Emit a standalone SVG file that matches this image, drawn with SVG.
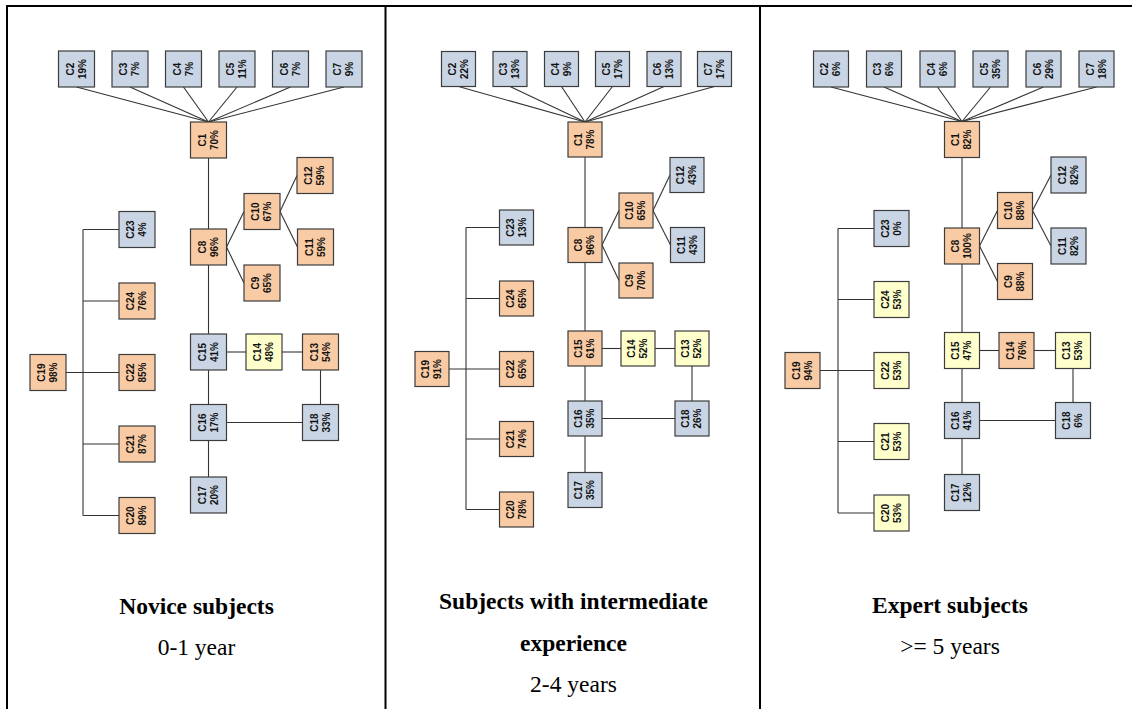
<svg xmlns="http://www.w3.org/2000/svg" width="1132" height="709" viewBox="0 0 1132 709">
<style>
.o{fill:#F9CBA4;stroke:#3c3c3c;stroke-width:1.2}
.b{fill:#C9D5E4;stroke:#3c3c3c;stroke-width:1.2}
.y{fill:#FFFFCC;stroke:#3c3c3c;stroke-width:1.2}
.t{font-family:"Liberation Sans",Arial,sans-serif;font-weight:bold;font-size:10px;fill:#111;text-anchor:middle}
.conn line{stroke:#333;stroke-width:1.1}
.frame line{stroke:#000;stroke-width:2}
.h{font-family:"Liberation Serif","Times New Roman",serif;font-weight:bold;font-size:23.5px;fill:#000;text-anchor:middle}
.s{font-family:"Liberation Serif","Times New Roman",serif;font-size:23.5px;fill:#000;text-anchor:middle}
</style>
<rect x="0" y="0" width="1132" height="709" fill="#fff"/>
<g class="frame">
<line x1="6" y1="6" x2="1132" y2="6"/>
<line x1="7" y1="5" x2="7" y2="709"/>
<line x1="385.5" y1="5" x2="385.5" y2="709"/>
<line x1="760" y1="5" x2="760" y2="709"/>
</g>

<!-- Panel 1 connectors -->
<g id="p1-connectors" class="conn">
<line x1="76.5" y1="87" x2="208.5" y2="122"/>
<line x1="130" y1="87" x2="208.5" y2="122"/>
<line x1="183.5" y1="87" x2="208.5" y2="122"/>
<line x1="237" y1="87" x2="208.5" y2="122"/>
<line x1="290.5" y1="87" x2="208.5" y2="122"/>
<line x1="344" y1="87" x2="208.5" y2="122"/>
<line x1="208.5" y1="158" x2="208.5" y2="229"/>
<line x1="226.5" y1="247" x2="244" y2="211.5"/>
<line x1="226.5" y1="247" x2="244" y2="283"/>
<line x1="280" y1="211.5" x2="297" y2="175.5"/>
<line x1="280" y1="211.5" x2="297.5" y2="247"/>
<line x1="208.5" y1="265" x2="208.5" y2="334"/>
<line x1="226.5" y1="352" x2="246" y2="352"/>
<line x1="282" y1="352" x2="302.5" y2="352"/>
<line x1="320.5" y1="370" x2="320.5" y2="404.5"/>
<line x1="208.5" y1="370" x2="208.5" y2="404.5"/>
<line x1="226.5" y1="422.5" x2="302.5" y2="422.5"/>
<line x1="208.5" y1="440.5" x2="208.5" y2="477"/>
<line x1="66" y1="372.5" x2="119" y2="372.5"/>
<line x1="83" y1="229.5" x2="83" y2="515.5"/>
<line x1="83" y1="229.5" x2="119" y2="229.5"/>
<line x1="83" y1="301" x2="119" y2="301"/>
<line x1="83" y1="444" x2="119" y2="444"/>
<line x1="83" y1="515.5" x2="119" y2="515.5"/>
</g>

<!-- Panel 2 connectors -->
<g id="p2-connectors" class="conn">
<line x1="458.5" y1="86.5" x2="585" y2="122"/>
<line x1="510" y1="86.5" x2="585" y2="122"/>
<line x1="561.5" y1="86.5" x2="585" y2="122"/>
<line x1="612.5" y1="86.5" x2="585" y2="122"/>
<line x1="664" y1="86.5" x2="585" y2="122"/>
<line x1="714.5" y1="86.5" x2="585" y2="122"/>
<line x1="585" y1="157" x2="585" y2="227.5"/>
<line x1="602" y1="245" x2="619" y2="210.5"/>
<line x1="602" y1="245" x2="619" y2="280.5"/>
<line x1="653" y1="210.5" x2="670" y2="175"/>
<line x1="653" y1="210.5" x2="670.5" y2="245"/>
<line x1="585" y1="262.5" x2="585" y2="331"/>
<line x1="602" y1="348.5" x2="621" y2="348.5"/>
<line x1="655" y1="348.5" x2="675" y2="348.5"/>
<line x1="692" y1="366" x2="692" y2="401"/>
<line x1="585" y1="366" x2="585" y2="401"/>
<line x1="602" y1="418.5" x2="675" y2="418.5"/>
<line x1="585" y1="436" x2="585" y2="472.5"/>
<line x1="449" y1="369" x2="499.5" y2="369"/>
<line x1="466" y1="227.5" x2="466" y2="509.5"/>
<line x1="466" y1="227.5" x2="499.5" y2="227.5"/>
<line x1="466" y1="298.5" x2="499.5" y2="298.5"/>
<line x1="466" y1="439" x2="499.5" y2="439"/>
<line x1="466" y1="509.5" x2="499.5" y2="509.5"/>
</g>

<!-- Panel 3 connectors -->
<g id="p3-connectors" class="conn">
<line x1="831" y1="87" x2="962" y2="121.5"/>
<line x1="884" y1="87" x2="962" y2="121.5"/>
<line x1="937.5" y1="87" x2="962" y2="121.5"/>
<line x1="990.5" y1="87" x2="962" y2="121.5"/>
<line x1="1043.5" y1="87" x2="962" y2="121.5"/>
<line x1="1096.5" y1="87" x2="962" y2="121.5"/>
<line x1="962" y1="157.5" x2="962" y2="228"/>
<line x1="979.5" y1="246" x2="997.5" y2="210.5"/>
<line x1="979.5" y1="246" x2="997.5" y2="281.5"/>
<line x1="1032.5" y1="210.5" x2="1051" y2="175"/>
<line x1="1032.5" y1="210.5" x2="1051" y2="246"/>
<line x1="962" y1="264" x2="962" y2="332.5"/>
<line x1="979.5" y1="350.5" x2="999" y2="350.5"/>
<line x1="1034" y1="350.5" x2="1055.5" y2="350.5"/>
<line x1="1073" y1="368.5" x2="1073" y2="402.5"/>
<line x1="962" y1="368.5" x2="962" y2="402.5"/>
<line x1="979.5" y1="420.5" x2="1055.5" y2="420.5"/>
<line x1="962" y1="438.5" x2="962" y2="474.5"/>
<line x1="820" y1="370.5" x2="874" y2="370.5"/>
<line x1="838" y1="228.5" x2="838" y2="513"/>
<line x1="838" y1="228.5" x2="874" y2="228.5"/>
<line x1="838" y1="299.5" x2="874" y2="299.5"/>
<line x1="838" y1="441.5" x2="874" y2="441.5"/>
<line x1="838" y1="513" x2="874" y2="513"/>
</g>

<!-- Panel 1 nodes -->
<g id="p1-nodes">
<g id="p1-C2" transform="translate(76.5,69)"><rect class="b" x="-18" y="-18" width="36" height="36"/><text class="t" transform="rotate(-90)"><tspan x="0" y="-3">C2</tspan><tspan x="0" y="9">19%</tspan></text></g>
<g id="p1-C3" transform="translate(130,69)"><rect class="b" x="-18" y="-18" width="36" height="36"/><text class="t" transform="rotate(-90)"><tspan x="0" y="-3">C3</tspan><tspan x="0" y="9">7%</tspan></text></g>
<g id="p1-C4" transform="translate(183.5,69)"><rect class="b" x="-18" y="-18" width="36" height="36"/><text class="t" transform="rotate(-90)"><tspan x="0" y="-3">C4</tspan><tspan x="0" y="9">7%</tspan></text></g>
<g id="p1-C5" transform="translate(237,69)"><rect class="b" x="-18" y="-18" width="36" height="36"/><text class="t" transform="rotate(-90)"><tspan x="0" y="-3">C5</tspan><tspan x="0" y="9">11%</tspan></text></g>
<g id="p1-C6" transform="translate(290.5,69)"><rect class="b" x="-18" y="-18" width="36" height="36"/><text class="t" transform="rotate(-90)"><tspan x="0" y="-3">C6</tspan><tspan x="0" y="9">7%</tspan></text></g>
<g id="p1-C7" transform="translate(344,69)"><rect class="b" x="-18" y="-18" width="36" height="36"/><text class="t" transform="rotate(-90)"><tspan x="0" y="-3">C7</tspan><tspan x="0" y="9">9%</tspan></text></g>
<g id="p1-C1" transform="translate(208.5,140)"><rect class="o" x="-18" y="-18" width="36" height="36"/><text class="t" transform="rotate(-90)"><tspan x="0" y="-3">C1</tspan><tspan x="0" y="9">70%</tspan></text></g>
<g id="p1-C8" transform="translate(208.5,247)"><rect class="o" x="-18" y="-18" width="36" height="36"/><text class="t" transform="rotate(-90)"><tspan x="0" y="-3">C8</tspan><tspan x="0" y="9">96%</tspan></text></g>
<g id="p1-C10" transform="translate(262,211.5)"><rect class="o" x="-18" y="-18" width="36" height="36"/><text class="t" transform="rotate(-90)"><tspan x="0" y="-3">C10</tspan><tspan x="0" y="9">67%</tspan></text></g>
<g id="p1-C12" transform="translate(315,175.5)"><rect class="o" x="-18" y="-18" width="36" height="36"/><text class="t" transform="rotate(-90)"><tspan x="0" y="-3">C12</tspan><tspan x="0" y="9">59%</tspan></text></g>
<g id="p1-C11" transform="translate(315.5,247)"><rect class="o" x="-18" y="-18" width="36" height="36"/><text class="t" transform="rotate(-90)"><tspan x="0" y="-3">C11</tspan><tspan x="0" y="9">59%</tspan></text></g>
<g id="p1-C9" transform="translate(262,283)"><rect class="o" x="-18" y="-18" width="36" height="36"/><text class="t" transform="rotate(-90)"><tspan x="0" y="-3">C9</tspan><tspan x="0" y="9">65%</tspan></text></g>
<g id="p1-C15" transform="translate(208.5,352)"><rect class="b" x="-18" y="-18" width="36" height="36"/><text class="t" transform="rotate(-90)"><tspan x="0" y="-3">C15</tspan><tspan x="0" y="9">41%</tspan></text></g>
<g id="p1-C14" transform="translate(264,352)"><rect class="y" x="-18" y="-18" width="36" height="36"/><text class="t" transform="rotate(-90)"><tspan x="0" y="-3">C14</tspan><tspan x="0" y="9">48%</tspan></text></g>
<g id="p1-C13" transform="translate(320.5,352)"><rect class="o" x="-18" y="-18" width="36" height="36"/><text class="t" transform="rotate(-90)"><tspan x="0" y="-3">C13</tspan><tspan x="0" y="9">54%</tspan></text></g>
<g id="p1-C16" transform="translate(208.5,422.5)"><rect class="b" x="-18" y="-18" width="36" height="36"/><text class="t" transform="rotate(-90)"><tspan x="0" y="-3">C16</tspan><tspan x="0" y="9">17%</tspan></text></g>
<g id="p1-C18" transform="translate(320.5,422.5)"><rect class="b" x="-18" y="-18" width="36" height="36"/><text class="t" transform="rotate(-90)"><tspan x="0" y="-3">C18</tspan><tspan x="0" y="9">33%</tspan></text></g>
<g id="p1-C17" transform="translate(208.5,495)"><rect class="b" x="-18" y="-18" width="36" height="36"/><text class="t" transform="rotate(-90)"><tspan x="0" y="-3">C17</tspan><tspan x="0" y="9">20%</tspan></text></g>
<g id="p1-C19" transform="translate(48,372.5)"><rect class="o" x="-18" y="-18" width="36" height="36"/><text class="t" transform="rotate(-90)"><tspan x="0" y="-3">C19</tspan><tspan x="0" y="9">98%</tspan></text></g>
<g id="p1-C23" transform="translate(137,229.5)"><rect class="b" x="-18" y="-18" width="36" height="36"/><text class="t" transform="rotate(-90)"><tspan x="0" y="-3">C23</tspan><tspan x="0" y="9">4%</tspan></text></g>
<g id="p1-C24" transform="translate(137,301)"><rect class="o" x="-18" y="-18" width="36" height="36"/><text class="t" transform="rotate(-90)"><tspan x="0" y="-3">C24</tspan><tspan x="0" y="9">76%</tspan></text></g>
<g id="p1-C22" transform="translate(137,372.5)"><rect class="o" x="-18" y="-18" width="36" height="36"/><text class="t" transform="rotate(-90)"><tspan x="0" y="-3">C22</tspan><tspan x="0" y="9">85%</tspan></text></g>
<g id="p1-C21" transform="translate(137,444)"><rect class="o" x="-18" y="-18" width="36" height="36"/><text class="t" transform="rotate(-90)"><tspan x="0" y="-3">C21</tspan><tspan x="0" y="9">87%</tspan></text></g>
<g id="p1-C20" transform="translate(137,515.5)"><rect class="o" x="-18" y="-18" width="36" height="36"/><text class="t" transform="rotate(-90)"><tspan x="0" y="-3">C20</tspan><tspan x="0" y="9">89%</tspan></text></g>
</g>

<!-- Panel 2 nodes -->
<g id="p2-nodes">
<g id="p2-C2" transform="translate(458.5,69)"><rect class="b" x="-17" y="-17.5" width="34" height="35"/><text class="t" transform="rotate(-90)"><tspan x="0" y="-3">C2</tspan><tspan x="0" y="9">22%</tspan></text></g>
<g id="p2-C3" transform="translate(510,69)"><rect class="b" x="-17" y="-17.5" width="34" height="35"/><text class="t" transform="rotate(-90)"><tspan x="0" y="-3">C3</tspan><tspan x="0" y="9">13%</tspan></text></g>
<g id="p2-C4" transform="translate(561.5,69)"><rect class="b" x="-17" y="-17.5" width="34" height="35"/><text class="t" transform="rotate(-90)"><tspan x="0" y="-3">C4</tspan><tspan x="0" y="9">9%</tspan></text></g>
<g id="p2-C5" transform="translate(612.5,69)"><rect class="b" x="-17" y="-17.5" width="34" height="35"/><text class="t" transform="rotate(-90)"><tspan x="0" y="-3">C5</tspan><tspan x="0" y="9">17%</tspan></text></g>
<g id="p2-C6" transform="translate(664,69)"><rect class="b" x="-17" y="-17.5" width="34" height="35"/><text class="t" transform="rotate(-90)"><tspan x="0" y="-3">C6</tspan><tspan x="0" y="9">13%</tspan></text></g>
<g id="p2-C7" transform="translate(714.5,69)"><rect class="b" x="-17" y="-17.5" width="34" height="35"/><text class="t" transform="rotate(-90)"><tspan x="0" y="-3">C7</tspan><tspan x="0" y="9">17%</tspan></text></g>
<g id="p2-C1" transform="translate(585,139.5)"><rect class="o" x="-17" y="-17.5" width="34" height="35"/><text class="t" transform="rotate(-90)"><tspan x="0" y="-3">C1</tspan><tspan x="0" y="9">78%</tspan></text></g>
<g id="p2-C8" transform="translate(585,245)"><rect class="o" x="-17" y="-17.5" width="34" height="35"/><text class="t" transform="rotate(-90)"><tspan x="0" y="-3">C8</tspan><tspan x="0" y="9">96%</tspan></text></g>
<g id="p2-C10" transform="translate(636,210.5)"><rect class="o" x="-17" y="-17.5" width="34" height="35"/><text class="t" transform="rotate(-90)"><tspan x="0" y="-3">C10</tspan><tspan x="0" y="9">65%</tspan></text></g>
<g id="p2-C12" transform="translate(687,175)"><rect class="b" x="-17" y="-17.5" width="34" height="35"/><text class="t" transform="rotate(-90)"><tspan x="0" y="-3">C12</tspan><tspan x="0" y="9">43%</tspan></text></g>
<g id="p2-C11" transform="translate(687.5,245)"><rect class="b" x="-17" y="-17.5" width="34" height="35"/><text class="t" transform="rotate(-90)"><tspan x="0" y="-3">C11</tspan><tspan x="0" y="9">43%</tspan></text></g>
<g id="p2-C9" transform="translate(636,280.5)"><rect class="o" x="-17" y="-17.5" width="34" height="35"/><text class="t" transform="rotate(-90)"><tspan x="0" y="-3">C9</tspan><tspan x="0" y="9">70%</tspan></text></g>
<g id="p2-C15" transform="translate(585,348.5)"><rect class="o" x="-17" y="-17.5" width="34" height="35"/><text class="t" transform="rotate(-90)"><tspan x="0" y="-3">C15</tspan><tspan x="0" y="9">61%</tspan></text></g>
<g id="p2-C14" transform="translate(638,348.5)"><rect class="y" x="-17" y="-17.5" width="34" height="35"/><text class="t" transform="rotate(-90)"><tspan x="0" y="-3">C14</tspan><tspan x="0" y="9">52%</tspan></text></g>
<g id="p2-C13" transform="translate(692,348.5)"><rect class="y" x="-17" y="-17.5" width="34" height="35"/><text class="t" transform="rotate(-90)"><tspan x="0" y="-3">C13</tspan><tspan x="0" y="9">52%</tspan></text></g>
<g id="p2-C16" transform="translate(585,418.5)"><rect class="b" x="-17" y="-17.5" width="34" height="35"/><text class="t" transform="rotate(-90)"><tspan x="0" y="-3">C16</tspan><tspan x="0" y="9">35%</tspan></text></g>
<g id="p2-C18" transform="translate(692,418.5)"><rect class="b" x="-17" y="-17.5" width="34" height="35"/><text class="t" transform="rotate(-90)"><tspan x="0" y="-3">C18</tspan><tspan x="0" y="9">26%</tspan></text></g>
<g id="p2-C17" transform="translate(585,490)"><rect class="b" x="-17" y="-17.5" width="34" height="35"/><text class="t" transform="rotate(-90)"><tspan x="0" y="-3">C17</tspan><tspan x="0" y="9">35%</tspan></text></g>
<g id="p2-C19" transform="translate(432,369)"><rect class="o" x="-17" y="-17.5" width="34" height="35"/><text class="t" transform="rotate(-90)"><tspan x="0" y="-3">C19</tspan><tspan x="0" y="9">91%</tspan></text></g>
<g id="p2-C23" transform="translate(516.5,227.5)"><rect class="b" x="-17" y="-17.5" width="34" height="35"/><text class="t" transform="rotate(-90)"><tspan x="0" y="-3">C23</tspan><tspan x="0" y="9">13%</tspan></text></g>
<g id="p2-C24" transform="translate(516.5,298.5)"><rect class="o" x="-17" y="-17.5" width="34" height="35"/><text class="t" transform="rotate(-90)"><tspan x="0" y="-3">C24</tspan><tspan x="0" y="9">65%</tspan></text></g>
<g id="p2-C22" transform="translate(516.5,369)"><rect class="o" x="-17" y="-17.5" width="34" height="35"/><text class="t" transform="rotate(-90)"><tspan x="0" y="-3">C22</tspan><tspan x="0" y="9">65%</tspan></text></g>
<g id="p2-C21" transform="translate(516.5,439)"><rect class="o" x="-17" y="-17.5" width="34" height="35"/><text class="t" transform="rotate(-90)"><tspan x="0" y="-3">C21</tspan><tspan x="0" y="9">74%</tspan></text></g>
<g id="p2-C20" transform="translate(516.5,509.5)"><rect class="o" x="-17" y="-17.5" width="34" height="35"/><text class="t" transform="rotate(-90)"><tspan x="0" y="-3">C20</tspan><tspan x="0" y="9">78%</tspan></text></g>
</g>

<!-- Panel 3 nodes -->
<g id="p3-nodes">
<g id="p3-C2" transform="translate(831,69)"><rect class="b" x="-17.5" y="-18" width="35" height="36"/><text class="t" transform="rotate(-90)"><tspan x="0" y="-3">C2</tspan><tspan x="0" y="9">6%</tspan></text></g>
<g id="p3-C3" transform="translate(884,69)"><rect class="b" x="-17.5" y="-18" width="35" height="36"/><text class="t" transform="rotate(-90)"><tspan x="0" y="-3">C3</tspan><tspan x="0" y="9">6%</tspan></text></g>
<g id="p3-C4" transform="translate(937.5,69)"><rect class="b" x="-17.5" y="-18" width="35" height="36"/><text class="t" transform="rotate(-90)"><tspan x="0" y="-3">C4</tspan><tspan x="0" y="9">6%</tspan></text></g>
<g id="p3-C5" transform="translate(990.5,69)"><rect class="b" x="-17.5" y="-18" width="35" height="36"/><text class="t" transform="rotate(-90)"><tspan x="0" y="-3">C5</tspan><tspan x="0" y="9">35%</tspan></text></g>
<g id="p3-C6" transform="translate(1043.5,69)"><rect class="b" x="-17.5" y="-18" width="35" height="36"/><text class="t" transform="rotate(-90)"><tspan x="0" y="-3">C6</tspan><tspan x="0" y="9">29%</tspan></text></g>
<g id="p3-C7" transform="translate(1096.5,69)"><rect class="b" x="-17.5" y="-18" width="35" height="36"/><text class="t" transform="rotate(-90)"><tspan x="0" y="-3">C7</tspan><tspan x="0" y="9">18%</tspan></text></g>
<g id="p3-C1" transform="translate(962,139.5)"><rect class="o" x="-17.5" y="-18" width="35" height="36"/><text class="t" transform="rotate(-90)"><tspan x="0" y="-3">C1</tspan><tspan x="0" y="9">82%</tspan></text></g>
<g id="p3-C8" transform="translate(962,246)"><rect class="o" x="-17.5" y="-18" width="35" height="36"/><text class="t" transform="rotate(-90)"><tspan x="0" y="-3">C8</tspan><tspan x="0" y="9">100%</tspan></text></g>
<g id="p3-C10" transform="translate(1015,210.5)"><rect class="o" x="-17.5" y="-18" width="35" height="36"/><text class="t" transform="rotate(-90)"><tspan x="0" y="-3">C10</tspan><tspan x="0" y="9">88%</tspan></text></g>
<g id="p3-C12" transform="translate(1068.5,175)"><rect class="b" x="-17.5" y="-18" width="35" height="36"/><text class="t" transform="rotate(-90)"><tspan x="0" y="-3">C12</tspan><tspan x="0" y="9">82%</tspan></text></g>
<g id="p3-C11" transform="translate(1068.5,246)"><rect class="b" x="-17.5" y="-18" width="35" height="36"/><text class="t" transform="rotate(-90)"><tspan x="0" y="-3">C11</tspan><tspan x="0" y="9">82%</tspan></text></g>
<g id="p3-C9" transform="translate(1015,281.5)"><rect class="o" x="-17.5" y="-18" width="35" height="36"/><text class="t" transform="rotate(-90)"><tspan x="0" y="-3">C9</tspan><tspan x="0" y="9">88%</tspan></text></g>
<g id="p3-C15" transform="translate(962,350.5)"><rect class="y" x="-17.5" y="-18" width="35" height="36"/><text class="t" transform="rotate(-90)"><tspan x="0" y="-3">C15</tspan><tspan x="0" y="9">47%</tspan></text></g>
<g id="p3-C14" transform="translate(1016.5,350.5)"><rect class="o" x="-17.5" y="-18" width="35" height="36"/><text class="t" transform="rotate(-90)"><tspan x="0" y="-3">C14</tspan><tspan x="0" y="9">76%</tspan></text></g>
<g id="p3-C13" transform="translate(1073,350.5)"><rect class="y" x="-17.5" y="-18" width="35" height="36"/><text class="t" transform="rotate(-90)"><tspan x="0" y="-3">C13</tspan><tspan x="0" y="9">53%</tspan></text></g>
<g id="p3-C16" transform="translate(962,420.5)"><rect class="b" x="-17.5" y="-18" width="35" height="36"/><text class="t" transform="rotate(-90)"><tspan x="0" y="-3">C16</tspan><tspan x="0" y="9">41%</tspan></text></g>
<g id="p3-C18" transform="translate(1073,420.5)"><rect class="b" x="-17.5" y="-18" width="35" height="36"/><text class="t" transform="rotate(-90)"><tspan x="0" y="-3">C18</tspan><tspan x="0" y="9">6%</tspan></text></g>
<g id="p3-C17" transform="translate(962,492.5)"><rect class="b" x="-17.5" y="-18" width="35" height="36"/><text class="t" transform="rotate(-90)"><tspan x="0" y="-3">C17</tspan><tspan x="0" y="9">12%</tspan></text></g>
<g id="p3-C19" transform="translate(802.5,370.5)"><rect class="o" x="-17.5" y="-18" width="35" height="36"/><text class="t" transform="rotate(-90)"><tspan x="0" y="-3">C19</tspan><tspan x="0" y="9">94%</tspan></text></g>
<g id="p3-C23" transform="translate(891.5,228.5)"><rect class="b" x="-17.5" y="-18" width="35" height="36"/><text class="t" transform="rotate(-90)"><tspan x="0" y="-3">C23</tspan><tspan x="0" y="9">0%</tspan></text></g>
<g id="p3-C24" transform="translate(891.5,299.5)"><rect class="y" x="-17.5" y="-18" width="35" height="36"/><text class="t" transform="rotate(-90)"><tspan x="0" y="-3">C24</tspan><tspan x="0" y="9">53%</tspan></text></g>
<g id="p3-C22" transform="translate(891.5,370.5)"><rect class="y" x="-17.5" y="-18" width="35" height="36"/><text class="t" transform="rotate(-90)"><tspan x="0" y="-3">C22</tspan><tspan x="0" y="9">53%</tspan></text></g>
<g id="p3-C21" transform="translate(891.5,441.5)"><rect class="y" x="-17.5" y="-18" width="35" height="36"/><text class="t" transform="rotate(-90)"><tspan x="0" y="-3">C21</tspan><tspan x="0" y="9">53%</tspan></text></g>
<g id="p3-C20" transform="translate(891.5,513)"><rect class="y" x="-17.5" y="-18" width="35" height="36"/><text class="t" transform="rotate(-90)"><tspan x="0" y="-3">C20</tspan><tspan x="0" y="9">53%</tspan></text></g>
</g>

<!-- Captions -->
<g id="captions">
<text class="h" x="196.5" y="614">Novice subjects</text>
<text class="s" x="196.5" y="655">0-1 year</text>
<text class="h" x="573.5" y="609">Subjects with intermediate</text>
<text class="h" x="573.5" y="651">experience</text>
<text class="s" x="573.5" y="692">2-4 years</text>
<text class="h" x="950" y="613">Expert subjects</text>
<text class="s" x="950" y="654">&gt;= 5 years</text>
</g>
</svg>
